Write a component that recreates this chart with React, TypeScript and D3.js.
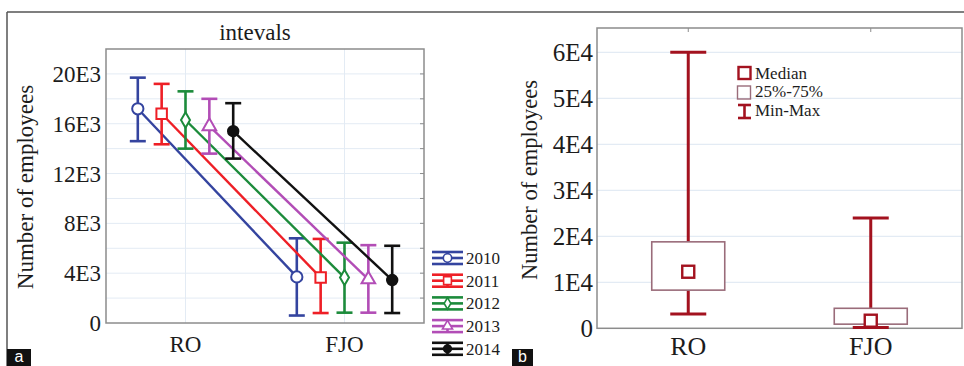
import React from 'react';
import * as d3 from 'd3';

// panel a: means with whiskers per year
const years = ['2010', '2011', '2012', '2013', '2014'];
const groups = ['RO', 'FJO'];
const meanRO = [17200, 16800, 16300, 15800, 15400];
const lowRO = [14600, 14350, 14000, 13600, 13200];
const highRO = [19700, 19200, 18600, 18000, 17650];
const meanFJO = [3700, 3650, 3650, 3500, 3450];
const lowFJO = [600, 800, 830, 830, 800];
const highFJO = [6800, 6750, 6450, 6250, 6200];
const yearColors = ['#34449f', '#ee1f26', '#1c8b3b', '#b24db6', '#111111'];
const yearSymbols = [d3.symbolCircle, d3.symbolSquare, d3.symbolDiamond, d3.symbolTriangle, d3.symbolCircle];
const yearFilled = [false, false, false, false, true];
const ticksA = [0, 4000, 8000, 12000, 16000, 20000];
const tickLabelsA = ['0', '4E3', '8E3', '12E3', '16E3', '20E3'];

// panel b: box plot
const boxMin = [3100, 200];
const boxQ1 = [8300, 900];
const boxMedian = [12300, 1650];
const boxQ3 = [18800, 4350];
const boxMax = [60000, 24000];
const ticksB = [0, 10000, 20000, 30000, 40000, 50000, 60000];
const tickLabelsB = ['0', '1E4', '2E4', '3E4', '4E4', '5E4', '6E4'];
const legendB = ['Median', '25%-75%', 'Min-Max'];

const serifStyle = { fontFamily: "'Liberation Serif', 'DejaVu Serif', serif" };
const sansStyle = { fontFamily: "'Liberation Sans', 'DejaVu Sans', sans-serif" };
const ink = '#1c1c1c';
const grid = '#e3ebf4';
const frame = '#8c8c8c';
const darkRed = '#a3121f';
const mauve = '#9a6c7a';

function PanelA() {
  const x = d3.scaleLinear().domain([-0.5, 1.5]).range([106, 424]);
  const y = d3.scaleLinear().domain([0, 22000]).range([323, 49]);
  const off = (i: number) => (i - 2) * 0.15;
  const minor = d3.range(2000, 22000, 2000);
  const sym = d3.symbol();
  const sizes = [100, 110, 70, 80, 85];
  const legendY = (i: number) => 258 + i * 22.7;

  const bar = (cx: number, lo: number, hi: number, color: string, key: string) => (
    <g key={key} stroke={color} strokeWidth={2.6} fill="none">
      <line x1={cx} x2={cx} y1={y(hi)} y2={y(lo)} />
      <line x1={cx - 8} x2={cx + 8} y1={y(hi)} y2={y(hi)} />
      <line x1={cx - 8} x2={cx + 8} y1={y(lo)} y2={y(lo)} />
    </g>
  );

  return (
    <g style={serifStyle}>
      <text x={255} y={40} textAnchor="middle" fontSize={23} fill={ink}>intevals</text>
      {minor.map(v => (
        <line key={v} x1={106} x2={424} y1={y(v)} y2={y(v)} stroke={grid} strokeWidth={1} />
      ))}
      {groups.map((g, gi) => (
        <line key={g} x1={x(gi)} x2={x(gi)} y1={49} y2={323} stroke={grid} strokeWidth={1} />
      ))}
      <rect x={106} y={49} width={318} height={274} fill="none" stroke={frame} strokeWidth={1.5} />
      {minor.map(v => (
        <line key={'t' + v} x1={420} x2={424} y1={y(v)} y2={y(v)} stroke={frame} strokeWidth={1} />
      ))}
      {ticksA.map((v, i) => (
        <text key={v} x={101} y={y(v)} dy="0.35em" textAnchor="end" fontSize={23} fill={ink}>{tickLabelsA[i]}</text>
      ))}
      {groups.map((g, gi) => (
        <text key={g} x={x(gi)} y={352} textAnchor="middle" fontSize={23} fill={ink}>{g}</text>
      ))}
      <text transform="translate(33,187) rotate(-90)" textAnchor="middle" fontSize={23} fill={ink}>Number of employees</text>

      {years.map((yr, i) => {
        const c = yearColors[i];
        const x0 = x(0 + off(i));
        const x1 = x(1 + off(i));
        const path = sym.type(yearSymbols[i]).size(sizes[i])() || '';
        return (
          <g key={yr}>
            <line x1={x0} y1={y(meanRO[i])} x2={x1} y2={y(meanFJO[i])} stroke={c} strokeWidth={2.4} />
            {bar(x0, lowRO[i], highRO[i], c, 'r')}
            {bar(x1, lowFJO[i], highFJO[i], c, 'f')}
            <path d={path} transform={`translate(${x0},${y(meanRO[i])})`} fill={yearFilled[i] ? c : 'white'} stroke={c} strokeWidth={2} />
            <path d={path} transform={`translate(${x1},${y(meanFJO[i])})`} fill={yearFilled[i] ? c : 'white'} stroke={c} strokeWidth={2} />
          </g>
        );
      })}

      {years.map((yr, i) => {
        const c = yearColors[i];
        const cy = legendY(i);
        const small = sym.type(yearSymbols[i]).size(sizes[i] * 0.55)() || '';
        return (
          <g key={'lg' + yr}>
            <g stroke={c} strokeWidth={2.6}>
              <line x1={432} x2={463} y1={cy - 6} y2={cy - 6} />
              <line x1={432} x2={463} y1={cy + 6} y2={cy + 6} />
              <line x1={432} x2={463} y1={cy} y2={cy} />
              <line x1={447.5} x2={447.5} y1={cy - 6} y2={cy + 6} />
            </g>
            <path d={small} transform={`translate(447.5,${cy})`} fill={yearFilled[i] ? c : 'white'} stroke={c} strokeWidth={1.6} />
            <text x={466} y={cy} dy="0.35em" fontSize={17} fill={ink}>{yr}</text>
          </g>
        );
      })}
    </g>
  );
}

function PanelB() {
  const x = d3.scaleLinear().domain([-0.5, 1.5]).range([597, 962]);
  const y = d3.scaleLinear().domain([0, 65300]).range([328.3, 28]);
  const boxW = 73;
  const capW = 36;

  return (
    <g style={serifStyle}>
      {ticksB.slice(1).map(v => (
        <line key={v} x1={597} x2={962} y1={y(v)} y2={y(v)} stroke={grid} strokeWidth={1.2} />
      ))}
      <rect x={597} y={28} width={365} height={300.3} fill="none" stroke={frame} strokeWidth={1.5} />
      {groups.map((g, gi) => (
        <line key={'tk' + g} x1={x(gi)} x2={x(gi)} y1={28} y2={32} stroke={frame} strokeWidth={1} />
      ))}
      {ticksB.map((v, i) => (
        <text key={v} x={593} y={y(v)} dy="0.35em" textAnchor="end" fontSize={25} fill={ink}>{tickLabelsB[i]}</text>
      ))}
      {groups.map((g, gi) => (
        <text key={g} x={x(gi)} y={355} textAnchor="middle" fontSize={26} fill={ink}>{g}</text>
      ))}
      <text transform="translate(537,180) rotate(-90)" textAnchor="middle" fontSize={22.5} fill={ink}>Number of employees</text>

      {groups.map((g, i) => {
        const cx = x(i);
        return (
          <g key={'box' + g}>
            <g stroke={darkRed} strokeWidth={3} fill="none">
              <line x1={cx} x2={cx} y1={y(boxMax[i])} y2={y(boxQ3[i])} />
              <line x1={cx} x2={cx} y1={y(boxQ1[i])} y2={y(boxMin[i])} />
              <line x1={cx - capW / 2} x2={cx + capW / 2} y1={y(boxMax[i])} y2={y(boxMax[i])} />
              <line x1={cx - capW / 2} x2={cx + capW / 2} y1={y(boxMin[i])} y2={y(boxMin[i])} />
            </g>
            <rect x={cx - boxW / 2} y={y(boxQ3[i])} width={boxW} height={y(boxQ1[i]) - y(boxQ3[i])} fill="white" stroke={mauve} strokeWidth={1.6} />
            <rect x={cx - 6} y={y(boxMedian[i]) - 6} width={12} height={12} fill="white" stroke={darkRed} strokeWidth={2.4} />
          </g>
        );
      })}

      <g>
        <rect x={738.5} y={67} width={12} height={12} fill="none" stroke={darkRed} strokeWidth={2.4} />
        <rect x={737.5} y={86} width={13} height={13} fill="none" stroke={mauve} strokeWidth={1.4} />
        <g stroke={darkRed} strokeWidth={2.6}>
          <line x1={744.5} x2={744.5} y1={105} y2={118} />
          <line x1={738} x2={751} y1={105} y2={105} />
          <line x1={738} x2={751} y1={118} y2={118} />
        </g>
        {legendB.map((t, i) => (
          <text key={t} x={755} y={73 + i * 18.5} dy="0.35em" fontSize={17} fill={ink}>{t}</text>
        ))}
      </g>
    </g>
  );
}

export default function App() {
  return (
    <div style={{ position: 'fixed', left: 0, top: 0 }}>
      <svg width={964} height={366} style={{ display: 'block', background: 'white' }}>
        <rect width={964} height={366} fill="white" />
        <line x1={7} x2={964} y1={12} y2={12} stroke="#555" strokeWidth={1.5} />
        <line x1={7} x2={7} y1={12} y2={366} stroke="#555" strokeWidth={1.5} />
        <PanelA />
        <PanelB />
        <g style={sansStyle}>
          <rect x={7} y={349} width={24} height={17} fill="#111" />
          <text x={19} y={362} textAnchor="middle" fontSize={16} fill="white">a</text>
          <rect x={512} y={349} width={21} height={17} fill="#111" />
          <text x={522.5} y={362} textAnchor="middle" fontSize={16} fill="white">b</text>
        </g>
      </svg>
    </div>
  );
}
